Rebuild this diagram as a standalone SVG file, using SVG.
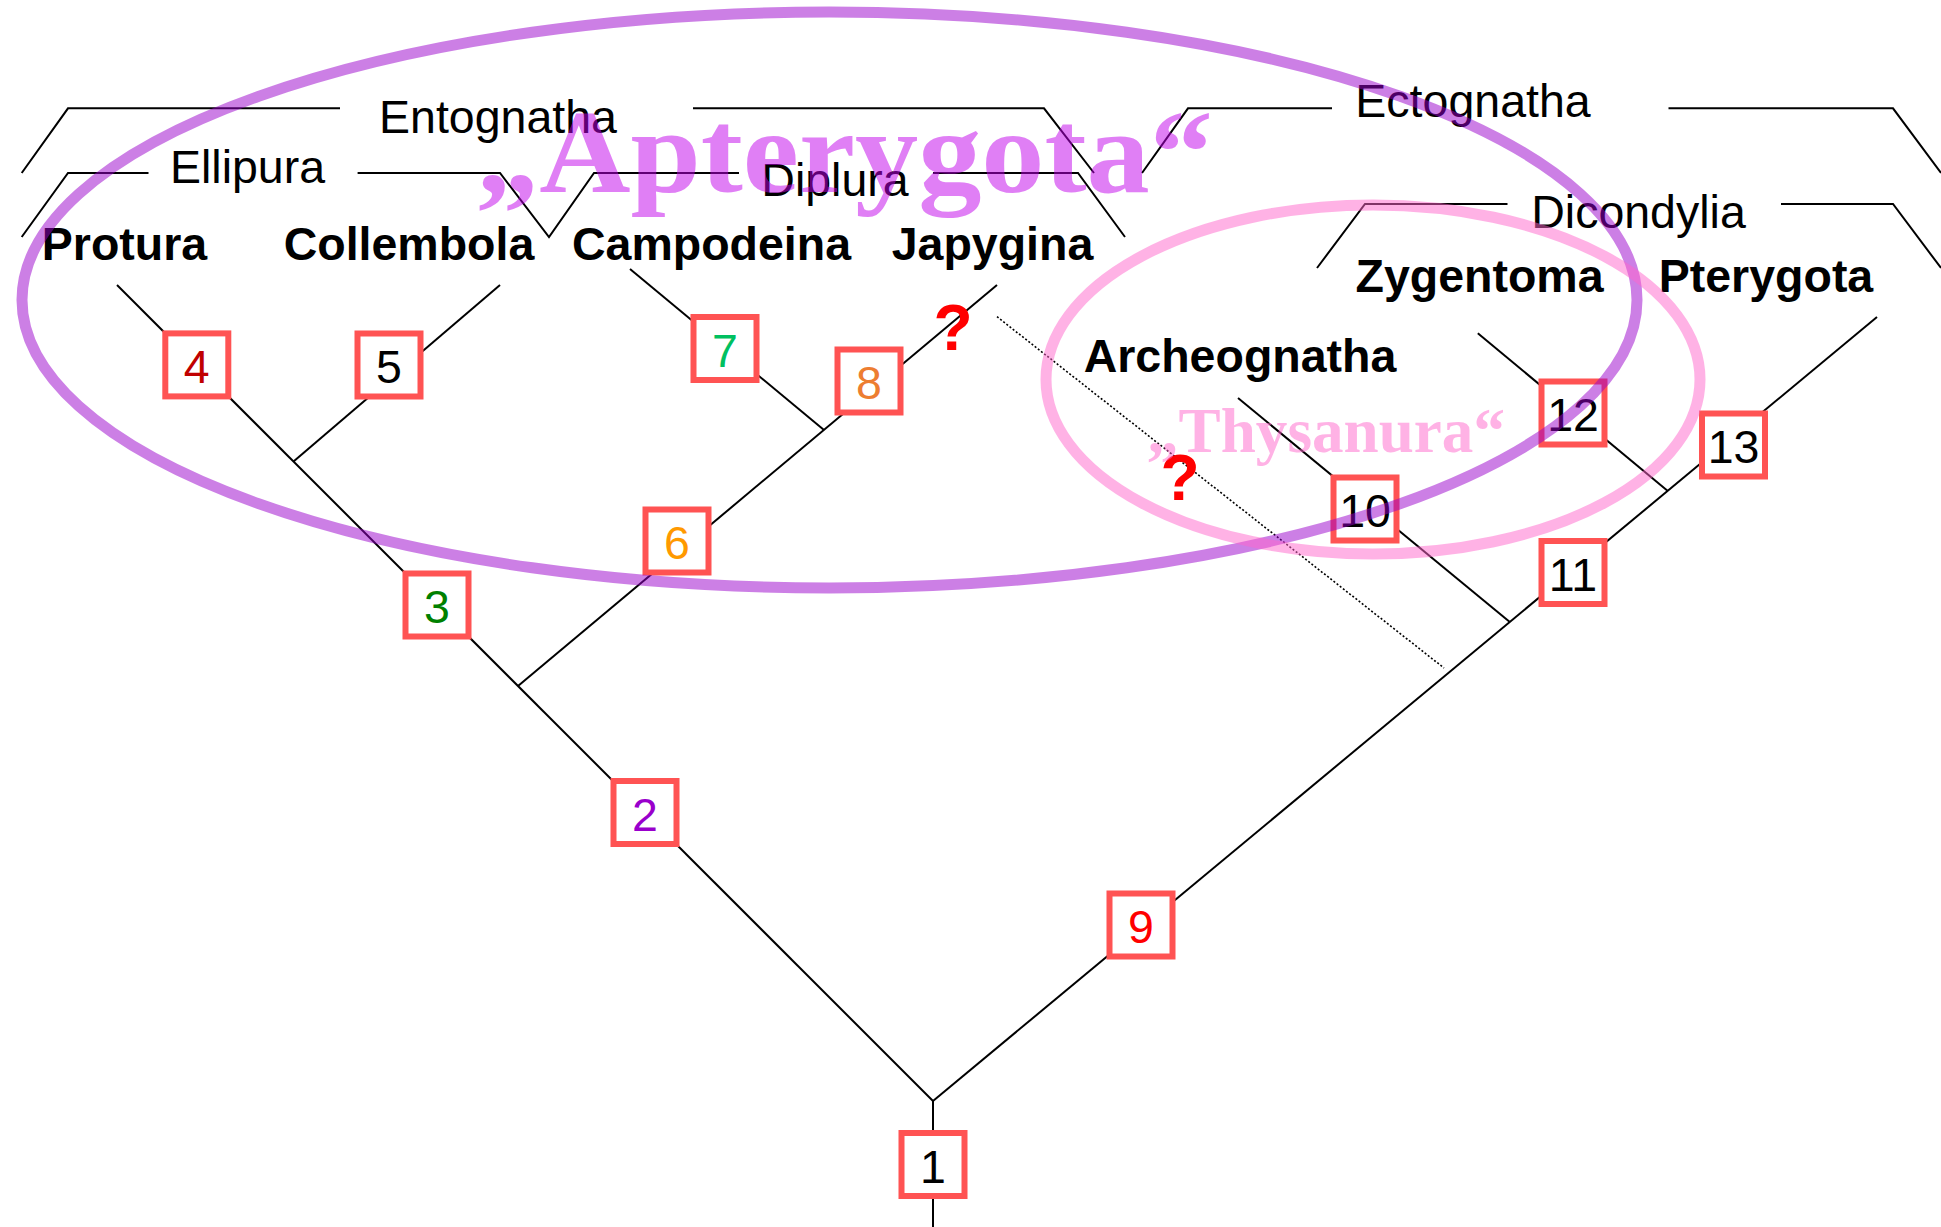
<svg xmlns="http://www.w3.org/2000/svg" width="1941" height="1227" viewBox="0 0 1941 1227">
<style>
.ln{stroke:#000;stroke-width:2;fill:none}
.br{stroke:#000;stroke-width:2;fill:none}
.dot{stroke:#000;stroke-width:1.6;stroke-dasharray:2 2;fill:none}
.box{fill:#fff;stroke:#FF5353;stroke-width:6}
.num{font-family:"Liberation Sans",Arial,sans-serif;font-size:46.5px;text-anchor:middle}
.grp{font-family:"Liberation Sans",Arial,sans-serif;font-size:46.5px;text-anchor:middle;fill:#000}
.tax{font-family:"Liberation Sans",Arial,sans-serif;font-size:46.5px;font-weight:bold;text-anchor:middle;fill:#000}
.q{font-family:"Liberation Sans",Arial,sans-serif;font-size:64px;font-weight:bold;fill:#f00;text-anchor:middle}
.big{font-family:"Liberation Serif","Times New Roman",serif;font-weight:bold}
</style>
<rect width="1941" height="1227" fill="#fff"/>
<g id="brackets">
<polyline class="br" points="21.7,173 68,108.3 340,108.3"/>
<polyline class="br" points="693,108.3 1044,108.3 1094,173"/>
<polyline class="br" points="21.7,237 68,173 148.5,173"/>
<polyline class="br" points="357.6,173 500,173 549,237 594,173 739,173"/>
<polyline class="br" points="933,173 1078,173 1125,237"/>
<polyline class="br" points="1142,173 1188,108.3 1332,108.3"/>
<polyline class="br" points="1668.5,108.3 1893,108.3 1941,173"/>
<polyline class="br" points="1317,268 1365,204 1507.5,204"/>
<polyline class="br" points="1781,204 1893,204 1941,268"/>
</g>
<g id="group-labels">
<text class="grp" x="498" y="133">Entognatha</text>
<text class="grp" x="247.5" y="183">Ellipura</text>
<text class="grp" x="835" y="196">Diplura</text>
<text class="grp" x="1473" y="117">Ectognatha</text>
<text class="grp" x="1638.5" y="228">Dicondylia</text>
</g>
<g id="taxa">
<text id="protura" class="tax" x="124.5" y="260">Protura</text>
<text id="collembola" class="tax" x="409" y="260">Collembola</text>
<text id="campodeina" class="tax" x="711.5" y="260">Campodeina</text>
<text id="japygina" class="tax" x="992.5" y="260">Japygina</text>
<text id="zygentoma" class="tax" x="1479.5" y="292">Zygentoma</text>
<text id="pterygota" class="tax" x="1766" y="292">Pterygota</text>
<text id="archeognatha" class="tax" x="1240" y="372">Archeognatha</text>
</g>
<g id="connectors">
<line class="ln" x1="117" y1="285" x2="933" y2="1101"/>
<line class="ln" x1="500" y1="285" x2="293.5" y2="461.5"/>
<line class="ln" x1="997" y1="285" x2="518" y2="686"/>
<line class="ln" x1="630" y1="269" x2="824" y2="430"/>
<line class="ln" x1="933" y1="1101" x2="1877" y2="317"/>
<line class="ln" x1="1238" y1="398" x2="1509.5" y2="621.8"/>
<line class="ln" x1="1477.8" y1="333.3" x2="1667.5" y2="490.8"/>
<line class="ln" x1="933" y1="1101" x2="933" y2="1227"/>
<line class="dot" x1="997" y1="316.7" x2="1444" y2="668"/>
</g>
<g id="n1"><rect class="box" x="901.5" y="1133" width="63" height="63"/><text class="num" x="933" y="1182.5" fill="#000">1</text></g>
<g id="n2"><rect class="box" x="613.5" y="781" width="63" height="63"/><text class="num" x="645" y="830.5" fill="#9900CC">2</text></g>
<g id="n3"><rect class="box" x="405.5" y="573.5" width="63" height="63"/><text class="num" x="437" y="623" fill="#008000">3</text></g>
<g id="n4"><rect class="box" x="165.3" y="333.4" width="63" height="63"/><text class="num" x="196.8" y="383" fill="#C00000">4</text></g>
<g id="n5"><rect class="box" x="357.5" y="333.5" width="63" height="63"/><text class="num" x="389" y="383" fill="#000">5</text></g>
<g id="n6"><rect class="box" x="645.5" y="509.5" width="63" height="63"/><text class="num" x="677" y="559" fill="#FF9900">6</text></g>
<g id="n7"><rect class="box" x="693.5" y="317" width="63" height="63"/><text class="num" x="725" y="366.5" fill="#00C060">7</text></g>
<g id="n8"><rect class="box" x="837.5" y="349.5" width="63" height="63"/><text class="num" x="869" y="399" fill="#ED7D31">8</text></g>
<g id="n9"><rect class="box" x="1109.5" y="893.5" width="63" height="63"/><text class="num" x="1141" y="943" fill="#FF0000">9</text></g>
<g id="n10"><rect class="box" x="1333.5" y="477.5" width="63" height="63"/><text class="num" x="1365" y="527" fill="#000">10</text></g>
<g id="n11"><rect class="box" x="1541.5" y="541" width="63" height="63"/><text class="num" x="1573" y="590.5" fill="#000">11</text></g>
<g id="n12"><rect class="box" x="1541.5" y="381.5" width="63" height="63"/><text class="num" x="1573" y="431" fill="#000">12</text></g>
<g id="n13"><rect class="box" x="1702" y="413.5" width="63" height="63"/><text class="num" x="1733.5" y="463" fill="#000">13</text></g>
<g id="questions">
<text class="q" x="953" y="350">?</text>
<text class="q" x="1180" y="500">?</text>
</g>
<g id="apterygota">
<ellipse cx="829.5" cy="300" rx="807.5" ry="288" fill="none" stroke="#9900CC" stroke-opacity="0.5" stroke-width="11"/>
<text class="big" x="476" y="192" font-size="118" textLength="737" lengthAdjust="spacingAndGlyphs" fill="#C200EC" fill-opacity="0.5">„Apterygota“</text>
</g>
<g id="thysanura">
<ellipse cx="1373" cy="379.5" rx="327" ry="174.5" fill="none" stroke="#FF66CC" stroke-opacity="0.5" stroke-width="11"/>
<text class="big" x="1147" y="452" font-size="63.5" textLength="358" lengthAdjust="spacingAndGlyphs" fill="#FF66CC" fill-opacity="0.5">„Thysanura“</text>
</g>
</svg>
